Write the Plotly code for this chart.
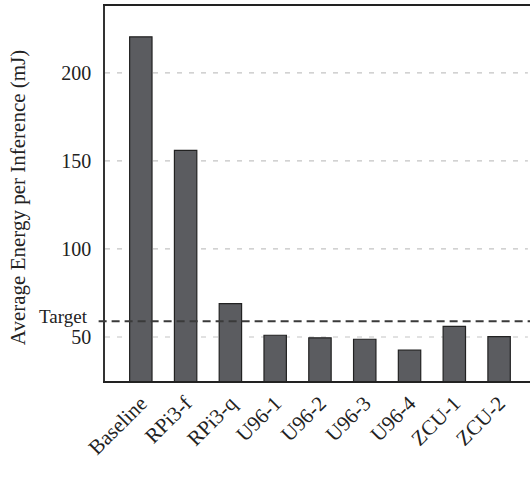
import plotly.graph_objects as go

# Energy per inference for each deployment configuration (mJ)
configs = ["Baseline", "RPi3-f", "RPi3-q", "U96-1", "U96-2", "U96-3", "U96-4", "ZCU-1", "ZCU-2"]
energy_mj = [220.5, 156, 69, 51, 49.5, 48.7, 42.5, 56, 50.2]
target_mj = 59
y_ticks = [50, 100, 150, 200]

serif = "Liberation Serif, Times New Roman, serif"

fig = go.Figure()
fig.add_trace(go.Bar(
    x=list(range(len(configs))),
    y=energy_mj,
    width=0.5,
    marker=dict(color="#5b5c60", line=dict(color="#222222", width=1.2)),
    hoverinfo="skip",
))

# Dashed horizontal gridlines
for v in y_ticks:
    fig.add_shape(type="line", xref="paper", yref="y", x0=0, x1=0.995, y0=v, y1=v,
                  line=dict(color="#c4c4c4", width=1.2, dash="5px,7px"), layer="below")

# Target energy budget
fig.add_shape(type="line", xref="paper", yref="y", x0=-0.015, x1=1, y0=target_mj, y1=target_mj,
              line=dict(color="#3a3a3a", width=2, dash="8px,5px"))
fig.add_annotation(text="Target", xref="paper", yref="y", x=0, y=target_mj,
                   xanchor="right", yanchor="middle", xshift=-15, yshift=5, showarrow=False,
                   font=dict(family=serif, size=19, color="#222222"))

fig.add_annotation(text="Average Energy per Inference (mJ)", xref="paper", yref="paper",
                   x=-0.205, y=0.49, textangle=-90, showarrow=False,
                   xanchor="center", yanchor="middle",
                   font=dict(family=serif, size=21, color="#222222"))

fig.update_layout(
    width=530, height=478,
    margin=dict(l=105, r=0, t=6, b=97),
    paper_bgcolor="white", plot_bgcolor="white",
    showlegend=False,
    xaxis=dict(
        range=[-0.8, 8.69],
        tickmode="array", tickvals=list(range(len(configs))), ticktext=configs,
        tickangle=-45, ticks="",
        tickfont=dict(family=serif, size=21, color="#222222"),
        showgrid=False, zeroline=False,
        showline=True, linecolor="#222222", linewidth=1.5, mirror=True,
    ),
    yaxis=dict(
        range=[25, 238],
        tickmode="array", tickvals=y_ticks,
        ticks="", ticklabelstandoff=8,
        tickfont=dict(family=serif, size=20, color="#222222"),
        showgrid=False, zeroline=False,
        showline=True, linecolor="#333333", linewidth=1.5,
    ),
)

fig.write_html("out.html")
